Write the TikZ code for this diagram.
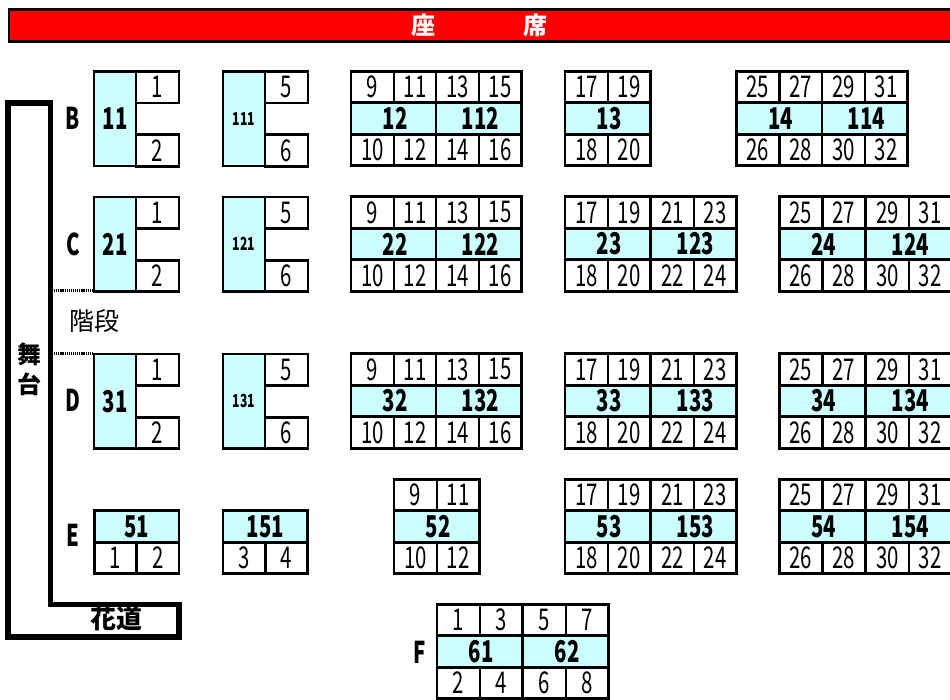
\documentclass[tikz,border=0pt]{standalone}
\usepackage{fontspec}
\newfontfamily\seatfont[FakeStretch=0.68]{Noto Sans CJK JP}
\newfontfamily\jpfont{Noto Sans CJK JP}
\tikzset{
    seat map/.style = {x=1pt, y=-1pt},
    cell/.style     = {draw, line width=2.6pt, inner sep=0pt, anchor=center},
    seat/.style     = {cell, fill=white, minimum width=42.8pt, minimum height=31.5pt,
                       font=\seatfont\fontsize{30}{30}\selectfont},
    aisle/.style    = {cell, fill=seatblue, minimum width=85.6pt, minimum height=31.5pt,
                       font=\seatfont\bfseries\fontsize{30}{30}\selectfont},
    tall/.style     = {aisle, minimum width=42pt, minimum height=94.5pt},
    tiny/.style     = {font=\seatfont\bfseries\fontsize{18}{18}\selectfont},
    rowname/.style  = {font=\seatfont\bfseries\fontsize{30}{30}\selectfont},
    jplabel/.style  = {inner sep=0pt, font=\jpfont\fontsize{25}{25}\selectfont},
    jpbold/.style   = {jplabel, font=\jpfont\bfseries\fontsize{24}{30}\selectfont},
    stage/.style    = {draw, line width=5.5pt, miter limit=4},
    stairs/.style   = {draw, line width=3pt, dash pattern=on 1.2pt off 0.9pt}
}
\definecolor{seatblue}{HTML}{CCFFFF}

% two seats over two seats, with the block number between them
\newcommand{\halfbank}[5]{%
    \pgfmathtruncatemacro{\seatb}{#4+1}
    \pgfmathtruncatemacro{\seatc}{#4+2}
    \pgfmathtruncatemacro{\seatd}{#4+3}
    \node[seat] (#1a) at (#2+21.4, #3+16) {#4};
    \node[seat] (#1c) at (#2+64.2, #3+16) {\seatc};
    \node[aisle] (#1m) at (#2+42.8, #3+47.5) {\hspace*{3pt}#5};
    \node[seat] (#1b) at (#2+21.4, #3+79) {\seatb};
    \node[seat] (#1d) at (#2+64.2, #3+79) {\seatd};
}
% tall block number with one seat above and one below
\newcommand{\sideblock}[7]{%
    \node[tall, #7] (#1m) at (#2+21, #3+47.25) {#6};
    \node[seat] (#1a) at (#2+63.4, #3+15.75) {#4};
    \node[seat] (#1b) at (#2+63.4, #3+79) {#5};
}
% block number over a pair of seats
\newcommand{\lowblock}[6]{%
    \node[aisle, minimum width=84.5pt] (#1m) at (#2+42.25, #3+15.5) {#6};
    \node[seat, minimum width=42.25pt] (#1a) at (#2+21.1, #3+47) {#4};
    \node[seat, minimum width=42.25pt] (#1b) at (#2+63.4, #3+47) {#5};
}

\begin{document}
\begin{tikzpicture}[seat map]
\useasboundingbox (0,0) rectangle (950,700);
\clip (0,0) rectangle (950,700);

% Title bar
\node[draw, line width=2.8pt, fill=red, anchor=north west, inner sep=0pt,
      minimum width=960pt, minimum height=32pt] (title) at (7.5,8) {};
\node[jpbold, text=white] (za) at (423,25) {座};
\node[jpbold, text=white] (seki) at (535,25) {席};

% Stage and walkway
\draw[stage] (8,103) -- (50.5,103) -- (50.5,604.5) -- (179,604.5)
    -- (179,637) -- (8,637) -- cycle;
\node[jpbold, align=center] (butai) at (29,369) {舞\\台};
\node[jpbold, font=\jpfont\bfseries\fontsize{26}{26}\selectfont] (hanamichi) at (116,619) {花道};
\node[jplabel] (kaidan) at (94,321.5) {階段};

% Row letters
\node[rowname] (rowB) at (73,118) {B};
\node[rowname] (rowC) at (73,244) {C};
\node[rowname] (rowD) at (73,400.5) {D};
\node[rowname] (rowE) at (73,535) {E};
\node[rowname] (rowF) at (420,652) {F};

% Row B
\sideblock{b11}{94}{71.5}{1}{2}{11}{}
\sideblock{b111}{223}{71.5}{5}{6}{111}{tiny}
\halfbank{b12}{351}{71}{9}{12}
\halfbank{b112}{436}{71}{13}{112}
\halfbank{b13}{565}{71}{17}{13}
\halfbank{b14}{736.5}{71}{25}{14}
\halfbank{b114}{822}{71}{29}{114}

% Row C
\sideblock{c21}{94}{197}{1}{2}{21}{}
\sideblock{c121}{223}{197}{5}{6}{121}{tiny}
\halfbank{c22}{351}{196.5}{9}{22}
\halfbank{c122}{436}{196.5}{13}{122}
\halfbank{c23}{565}{196.5}{17}{23}
\halfbank{c123}{651}{196.5}{21}{123}
\halfbank{c24}{779.5}{196.5}{25}{24}
\halfbank{c124}{866}{196.5}{29}{124}

% Row D
\sideblock{d31}{94}{354}{1}{2}{31}{}
\sideblock{d131}{223}{354}{5}{6}{131}{tiny}
\halfbank{d32}{351}{353.5}{9}{32}
\halfbank{d132}{436}{353.5}{13}{132}
\halfbank{d33}{565}{353.5}{17}{33}
\halfbank{d133}{651}{353.5}{21}{133}
\halfbank{d34}{779.5}{353.5}{25}{34}
\halfbank{d134}{866}{353.5}{29}{134}

% Row E
\lowblock{e51}{94.5}{511}{1}{2}{51}
\lowblock{e151}{223}{511}{3}{4}{151}
\halfbank{e52}{394}{479}{9}{52}
\halfbank{e53}{565}{479}{17}{53}
\halfbank{e153}{651}{479}{21}{153}
\halfbank{e54}{779.5}{479}{25}{54}
\halfbank{e154}{866}{479}{29}{154}

% Row F
\halfbank{f61}{437}{604}{1}{61}
\halfbank{f62}{523}{604}{5}{62}

% Stairs openings between the stage and the blocks
\coordinate (stairC) at (54,290.5);
\coordinate (stairD) at (54,354);
\path[stairs] (stairC) -- (stairC -| c21m.west);
\path[stairs] (stairD) -- (stairD -| d31m.west);

\end{tikzpicture}
\end{document}
